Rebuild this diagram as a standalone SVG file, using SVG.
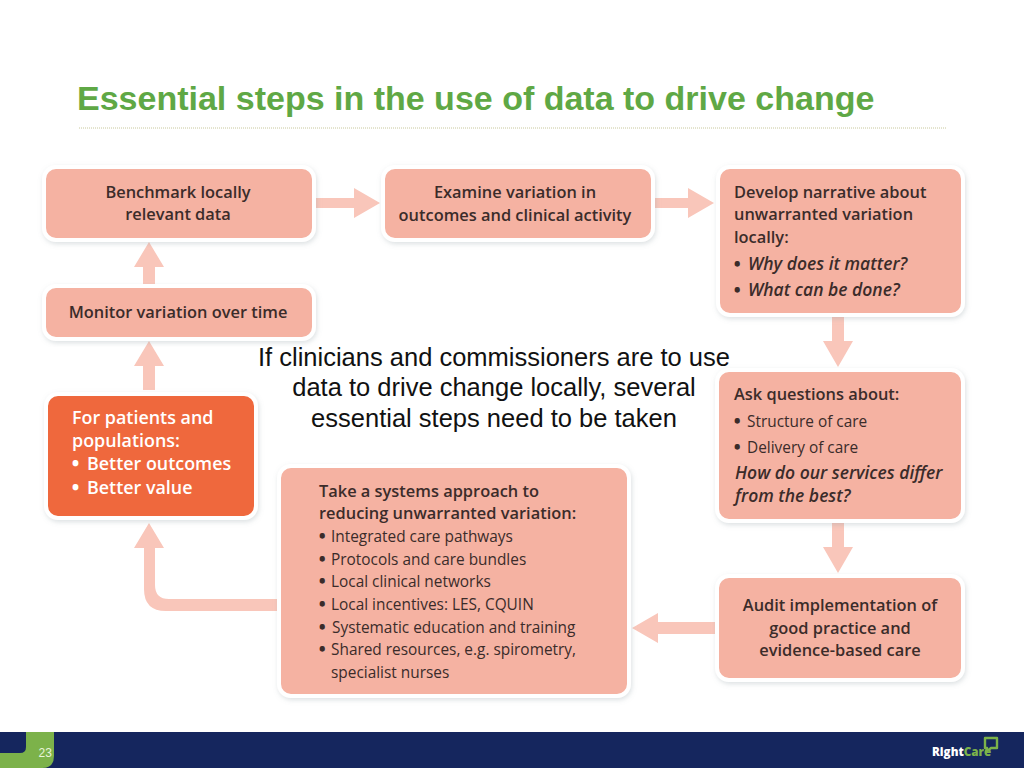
<svg xmlns="http://www.w3.org/2000/svg" width="1024" height="768" viewBox="0 0 1024 768">
<defs>
<filter id="sh" x="-10%" y="-15%" width="120%" height="130%"><feDropShadow dx="1" dy="2" stdDeviation="2.5" flood-color="#8a9aa0" flood-opacity="0.3"/></filter>
</defs>
<style>
.box{fill:#f5b2a2;stroke:#fff;stroke-width:4;filter:url(#sh)}
.hot{fill:#ef683d}
.t{font-family:"Open Sans","Noto Sans",sans-serif;font-size:15.4px;fill:#3b2c2a}
.b{font-weight:600;font-size:16.4px}
.i{font-style:italic;font-size:17.5px;font-weight:600}
.m{text-anchor:middle}
.w{fill:#fff;font-size:17.9px}
.u{font-weight:800}
.arrow{fill:#f9c6ba;stroke:none}
.lead{font-family:"Liberation Sans",Arial,sans-serif;font-size:25.5px;fill:#111;text-anchor:middle}
</style>
<rect width="1024" height="768" fill="#fff"/>
<text x="77" y="110" font-family="'Liberation Sans',Arial,sans-serif" font-weight="700" font-size="34px" fill="#5fa845">Essential steps in the use of data to drive change</text>
<line x1="79" y1="128" x2="946" y2="128" stroke="#c8c89c" stroke-width="1" stroke-dasharray="1 1"/>

<g id="connectors">
<path class="arrow" d="M315 198H354V188L380 203L354 218V208H315Z"/>
<path class="arrow" d="M654 198H688V188L714 203L688 218V208H654Z"/>
<path class="arrow" d="M832 316H844V341H853L838 367L823 341H832Z"/>
<path class="arrow" d="M832 522H844V547H853L838 573L823 547H832Z"/>
<path class="arrow" d="M716 622V634H658V643L632 628L658 613V622Z"/>
<path class="arrow" d="M277 599V611H166Q144 611 144 589V548H134L149 523L164 548H155V585Q155 599 169 599Z"/>
<path class="arrow" d="M143 390V366H134L149 341L164 366H155V390Z"/>
<path class="arrow" d="M143 285V267H134L149 242L164 267H155V285Z"/>
</g>

<g id="benchmark"><rect class="box" x="44" y="167" width="270" height="73" rx="12"/>
<text class="t b m" x="178" y="198">Benchmark locally</text><text class="t b m" x="178" y="220">relevant data</text></g>
<g id="examine"><rect class="box" x="383" y="167" width="270" height="73" rx="12"/>
<text class="t b m" x="515" y="198">Examine variation in</text><text class="t b m" x="515" y="221">outcomes and clinical activity</text></g>
<g id="narrative"><rect class="box" x="718" y="167" width="245" height="148" rx="12"/>
<text class="t b" x="734" y="198">Develop narrative about</text><text class="t b" x="734" y="220">unwarranted variation</text><text class="t b" x="734" y="243">locally:</text>
<text class="t b u" x="734" y="270">•</text><text class="t i" x="748" y="270">Why does it matter?</text><text class="t b u" x="734" y="296">•</text><text class="t i" x="748" y="296">What can be done?</text></g>
<g id="monitor"><rect class="box" x="44" y="286" width="270" height="53" rx="12"/>
<text class="t b m" x="178" y="318">Monitor variation over time</text></g>
<g id="questions"><rect class="box" x="717" y="370" width="246" height="151" rx="12"/>
<text class="t b" x="734" y="400">Ask questions about:</text><text class="t b u" x="734" y="427">•</text><text class="t" x="747" y="427">Structure of care</text><text class="t b u" x="734" y="453">•</text><text class="t" x="747" y="453">Delivery of care</text>
<text class="t i" x="735" y="479">How do our services differ</text><text class="t i" x="735" y="502">from the best?</text></g>
<g id="patients"><rect class="box hot" x="46" y="394" width="210" height="124" rx="12"/>
<text class="t b w" x="72" y="424">For patients and</text><text class="t b w" x="72" y="446.5">populations:</text>
<text class="t b w u" x="72" y="469.5">•</text><text class="t b w" x="87" y="469.5">Better outcomes</text><text class="t b w u" x="72" y="494">•</text><text class="t b w" x="87" y="494">Better value</text></g>
<g id="systems"><rect class="box" x="279" y="466" width="350" height="230" rx="12"/>
<text class="t b" x="319" y="497">Take a systems approach to</text><text class="t b" x="319" y="519">reducing unwarranted variation:</text>
<text class="t b u" x="319" y="542">•</text><text class="t" x="331" y="542">Integrated care pathways</text>
<text class="t b u" x="319" y="565">•</text><text class="t" x="331" y="565">Protocols and care bundles</text>
<text class="t b u" x="319" y="587">•</text><text class="t" x="331" y="587">Local clinical networks</text>
<text class="t b u" x="319" y="610">•</text><text class="t" x="331" y="610">Local incentives: LES, CQUIN</text>
<text class="t b u" x="319" y="633">•</text><text class="t" x="332" y="633">Systematic education and training</text>
<text class="t b u" x="319" y="655">•</text><text class="t" x="331" y="655">Shared resources, e.g. spirometry,</text>
<text class="t" x="331" y="678">specialist nurses</text></g>
<g id="audit"><rect class="box" x="717" y="576" width="246" height="104" rx="12"/>
<text class="t b m" x="840" y="611">Audit implementation of</text><text class="t b m" x="840" y="634">good practice and</text><text class="t b m" x="840" y="656">evidence-based care</text></g>

<g id="lead"><text class="lead" x="494" y="366">If clinicians and commissioners are to use</text><text class="lead" x="494" y="396">data to drive change locally, several</text><text class="lead" x="494" y="427">essential steps need to be taken</text></g>

<g id="footer">
<rect y="732" width="1024" height="36" fill="#15265e"/>
<path d="M0 768V753H20Q26 753 26 747V732H54V756Q54 768 42 768Z" fill="#7cb24a"/>
<text x="38.5" y="757" font-family="'Liberation Sans',Arial,sans-serif" font-size="12px" fill="#e8f5d8">23</text>
<text x="932" y="756" font-family="'Open Sans',sans-serif" font-weight="800" font-size="11.6px" fill="#fff">Right<tspan fill="#7cb24a">Care</tspan></text>
<path d="M985 738H997V748H991L986 752L987 748H985Z" fill="none" stroke="#7cb24a" stroke-width="2.4" stroke-linejoin="round"/>
</g>
</svg>
